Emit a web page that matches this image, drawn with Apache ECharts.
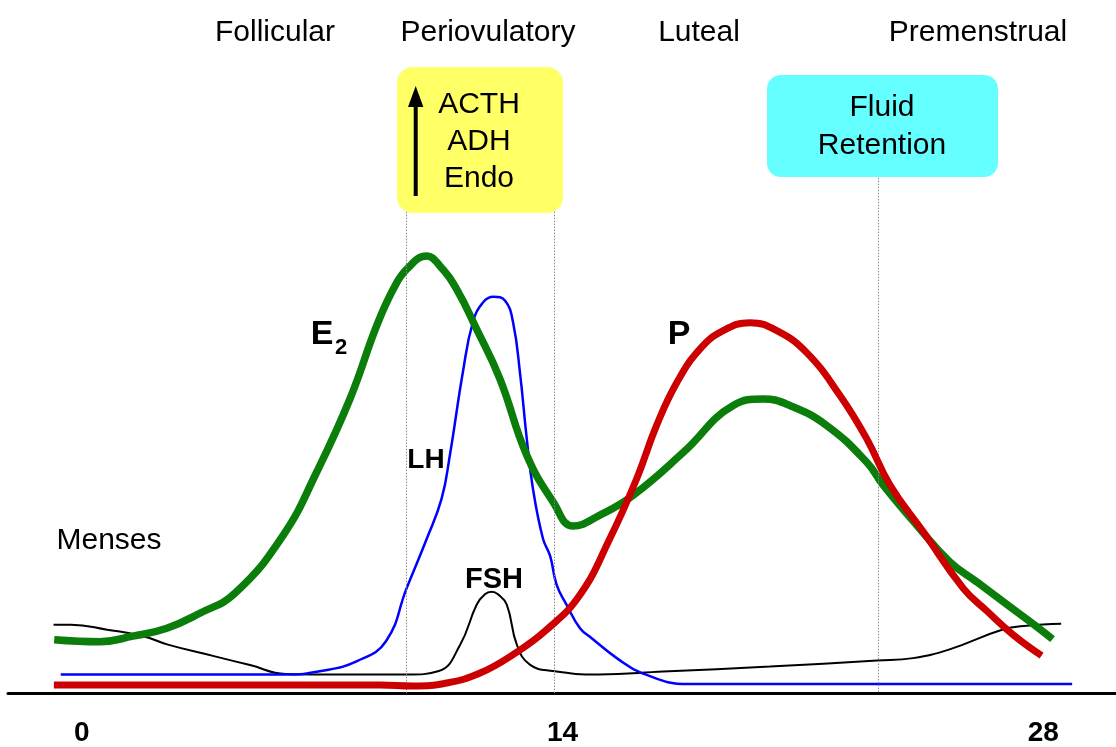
<!DOCTYPE html>
<html>
<head>
<meta charset="utf-8">
<script src="https://cdn.jsdelivr.net/npm/echarts@6/dist/echarts.min.js"></script>
<style>
html,body{margin:0;padding:0;background:#fff;}
#chart{width:1116px;height:747px;}
</style>
</head>
<body>
<div id="chart"></div>
<script>
// Day of cycle (x) and relative hormone level (y)
const e2Data = [
  [-0.80,10.7],[0.53,10.3],[1.49,11.4],[2.48,13.0],[3.44,16.0],[4.46,20.0],[5.87,31.7],
  [6.84,44.3],[7.81,59.0],[8.59,73.7],[9.07,81.0],[9.46,85.0],[10.05,87.7],[10.43,85.7],
  [10.92,81.0],[11.50,73.0],[12.18,63.0],[12.96,47.7],[13.73,38.3],[14.31,33.5],[15.09,35.7],
  [16.06,39.7],[17.52,48.3],[18.97,57.7],[19.85,59.0],[20.62,57.7],[21.69,53.7],[22.86,46.3],
  [23.34,41.7],[24.31,33.7],[25.28,26.3],[26.06,22.3],[27.03,17.3],[27.81,13.3],[28.27,10.8]
];
const pData = [
  [-0.81,1.6],[3.0,1.6],[6.0,1.6],[8.69,1.6],[9.65,1.4],[10.63,2.0],[11.60,4.0],[12.56,7.7],
  [13.54,12.7],[14.51,19.7],[15.38,31.0],[16.16,43.0],[16.74,53.7],[17.33,62.3],[18.00,69.0],
  [18.68,72.7],[19.46,74.3],[20.24,72.7],[21.11,68.3],[22.08,59.7],[22.86,51.0],[23.54,41.7],
  [24.51,32.3],[25.67,21.0],[26.35,16.5],[27.12,11.7],[27.95,7.5]
];
const lhData = [
  [-0.61,3.7],[2.5,3.7],[5.94,3.7],[6.97,4.4],[8.02,6.4],[8.86,10.4],[9.46,21.0],[10.05,31.0],
  [10.48,39.0],[10.72,47.7],[11.10,64.4],[11.39,74.4],[11.69,78.4],[11.99,79.5],[12.33,78.7],
  [12.56,74.4],[12.76,64.4],[12.96,51.0],[13.14,41.0],[13.43,31.0],[13.64,27.5],[13.83,21.7],
  [14.12,17.7],[14.51,13.0],[14.85,11.0],[15.58,7.0],[16.31,4.0],[17.65,1.8],[22.0,1.8],[28.84,1.8]
];
const fshData = [
  [-0.82,13.7],[-0.31,13.7],[0.74,12.7],[1.79,11.4],[2.51,9.7],[3.85,7.4],[4.90,5.6],[5.94,3.8],
  [6.97,3.7],[9.47,3.7],[10.40,4.4],[11.02,9.7],[11.50,17.7],[11.74,19.8],[11.94,20.3],[12.12,19.8],
  [12.38,17.7],[12.67,9.7],[13.05,5.7],[13.72,4.4],[15.06,3.7],[16.93,4.3],[20.04,5.3],[23.16,6.5],
  [24.21,7.0],[25.25,8.7],[26.80,12.7],[27.52,13.5],[28.52,13.9]
];
const tickValues = [0, 14, 28];
const boundaryDays = [9.46, 13.76, 23.2];
const boundaryTops = [96.6, 96.6, 103.4];
const phaseLabels = ['Follicular', 'Periovulatory', 'Luteal', 'Premenstrual'];
const yellowBoxLines = ['ACTH', 'ADH', 'Endo'];
const cyanBoxLines = ['Fluid', 'Retention'];
const curveLabels = { e2: 'E', e2sub: '2', p: 'P', lh: 'LH', fsh: 'FSH', menses: 'Menses' };

const FONT = '"Liberation Sans", Arial, Helvetica, sans-serif';

function txt(text, x, y, size, weight, align) {
  return {
    type: 'text', z: 100,
    style: {
      text: text, x: x, y: y,
      font: (weight || 'normal') + ' ' + size + 'px ' + FONT,
      fill: '#000',
      textAlign: align || 'center', textVerticalAlign: 'middle',
      align: align || 'center', verticalAlign: 'middle'
    }
  };
}

const phaseX = [275, 488, 699, 978];
const graphics = [];
phaseLabels.forEach((t, i) => graphics.push(txt(t, phaseX[i], 33, 30)));
// yellow box
graphics.push({ type: 'rect', z: 50, shape: { x: 397, y: 67, width: 166, height: 146, r: 16 }, style: { fill: '#ffff66' } });
graphics.push({ type: 'line', z: 60, shape: { x1: 415.7, y1: 196, x2: 415.7, y2: 104 }, style: { stroke: '#000', lineWidth: 4 } });
graphics.push({ type: 'polygon', z: 60, shape: { points: [[415.7, 86], [408, 107], [423.4, 107]] }, style: { fill: '#000' } });
[105, 142, 179].forEach((y, i) => graphics.push(txt(yellowBoxLines[i], 479, y, 30)));
// cyan box
graphics.push({ type: 'rect', z: 50, shape: { x: 767, y: 75, width: 231, height: 102, r: 14 }, style: { fill: '#66ffff' } });
[108, 146].forEach((y, i) => graphics.push(txt(cyanBoxLines[i], 882, y, 30)));
// curve labels
graphics.push(txt(curveLabels.e2, 322, 335, 34, 'bold'));
graphics.push(txt(curveLabels.e2sub, 341, 348, 22, 'bold'));
graphics.push(txt(curveLabels.p, 679, 335, 34, 'bold'));
graphics.push(txt(curveLabels.lh, 426, 460, 28, 'bold'));
graphics.push(txt(curveLabels.fsh, 494, 580, 29, 'bold'));
graphics.push(txt(curveLabels.menses, 109, 541, 30, 'normal'));

const chart = echarts.init(document.getElementById('chart'), null, { renderer: 'canvas' });
chart.setOption({
  animation: false,
  backgroundColor: '#fff',
  grid: { left: 8, right: 0, top: 95, bottom: 52, containLabel: false },
  xAxis: {
    type: 'value', min: -2.146, max: 30.117,
    axisLine: { show: true, lineStyle: { color: '#000', width: 3 } },
    axisTick: { show: false },
    splitLine: { show: false },
    axisLabel: {
      customValues: tickValues,
      formatter: v => String(v),
      fontFamily: FONT, fontSize: 28, fontWeight: 'bold', color: '#000', margin: 26
    }
  },
  yAxis: { type: 'value', min: 0, max: 120, show: false },
  graphic: graphics,
  series: [
    {
      type: 'line', data: [], z: 1,
      markLine: {
        silent: true, symbol: 'none', label: { show: false },
        lineStyle: { color: '#888', width: 1, type: [1.5, 1.5] },
        data: boundaryDays.map((d, i) => [{ coord: [d, boundaryTops[i]] }, { coord: [d, 0] }])
      }
    },
    { name: 'FSH', type: 'line', data: fshData, smooth: 0.45, symbol: 'none', z: 2,
      lineStyle: { color: '#000', width: 2 } },
    { name: 'LH', type: 'line', data: lhData, smooth: 0.45, symbol: 'none', z: 3,
      lineStyle: { color: '#0000ff', width: 2.5 } },
    { name: 'E2', type: 'line', data: e2Data, smooth: 0.45, symbol: 'none', z: 4,
      lineStyle: { color: '#0a7d0a', width: 7.5 } },
    { name: 'P', type: 'line', data: pData, smooth: 0.45, symbol: 'none', z: 5,
      lineStyle: { color: '#cc0000', width: 7 } }
  ]
});
</script>
</body>
</html>
